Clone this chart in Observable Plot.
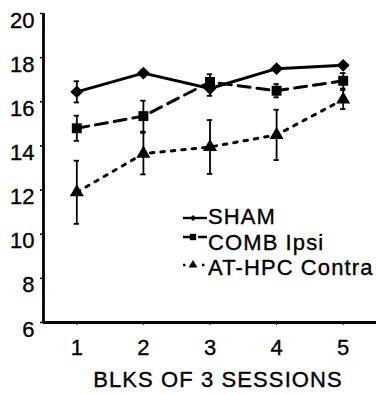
<!DOCTYPE html>
<html><head><meta charset="utf-8">
<script src="https://cdn.jsdelivr.net/npm/d3@7"></script>
<script src="https://cdn.jsdelivr.net/npm/@observablehq/plot@0.6"></script>
<style>
body{margin:0;background:#fff;font-family:"Liberation Sans",Arial,sans-serif;}
#wrap{position:relative;width:376px;height:394px;}
#wrap svg{display:block;}
#legend{position:absolute;left:0;top:0;pointer-events:none;}
#wrap text{stroke:#000;stroke-width:0.35px;}
</style></head><body><div id="wrap"></div>
<script>
const blocks = [1, 2, 3, 4, 5];
const seriesNames = ["SHAM", "COMB Ipsi", "AT-HPC Contra"];
const shamMean = [16.45, 17.3, 16.6, 17.5, 17.65];
const shamErr = [0.48, 0.12, 0.33, 0.12, 0.08];
const combMean = [14.8, 15.35, 16.9, 16.5, 16.95];
const combErr = [0.57, 0.7, 0.35, 0.3, 0.35];
const athpcMean = [11.9, 13.65, 13.95, 14.5, 16.1];
const athpcErr = [1.43, 0.94, 1.22, 1.14, 0.43];
const yTicks = [6, 8, 10, 12, 14, 16, 18, 20];
const xTitle = "BLKS OF 3 SESSIONS";

const means = [shamMean, combMean, athpcMean];
const errs = [shamErr, combErr, athpcErr];
const rows = seriesNames.flatMap((s, i) => blocks.map((b, j) => ({series: s, block: b, mean: means[i][j], err: errs[i][j]})));
const bySeries = s => rows.filter(d => d.series === s);

const symbols = {"SHAM": "diamond2", "COMB Ipsi": "square", "AT-HPC Contra": "triangle"};
const radius = {"SHAM": 5.8, "COMB Ipsi": 5.6, "AT-HPC Contra": 5.2};
const dash = {"SHAM": null, "COMB Ipsi": "12,7", "AT-HPC Contra": "3.5,7"};

const font = '"Liberation Sans", Arial, sans-serif';
const plot = Plot.plot({
  width: 376, height: 394,
  marginLeft: 43, marginRight: 0, marginTop: 13, marginBottom: 72,
  x: {domain: [0.5, 5.5]},
  y: {domain: [6, 20]},
  style: {fontFamily: font, fontSize: "22px", color: "#000", background: "#fff"},
  marks: [
    Plot.axisY({ticks: yTicks, tickSize: 3, tickFormat: () => "", label: null, strokeWidth: 1.5}),
    Plot.axisY({ticks: yTicks, tickSize: 0, tickPadding: 9, dy: 7, label: null, fontSize: 22}),
    Plot.axisX({ticks: blocks, tickSize: 3, tickPadding: 14, tickFormat: d3.format("d"), label: null, fontSize: 22}),
    Plot.ruleX([0.5], {strokeWidth: 2.8}),
    Plot.ruleY([6], {strokeWidth: 2.8}),
    ...seriesNames.map(s => Plot.line(bySeries(s), {x: "block", y: "mean", stroke: "#000", strokeWidth: 3, strokeDasharray: dash[s]})),
    Plot.ruleX(rows, {x: "block", y1: d => d.mean - d.err, y2: d => d.mean + d.err, stroke: "#000", strokeWidth: 1.8}),
    Plot.ruleY(rows, {y: d => d.mean - d.err, x1: d => d.block - 0.04, x2: d => d.block + 0.04, stroke: "#000", strokeWidth: 1.8}),
    Plot.ruleY(rows, {y: d => d.mean + d.err, x1: d => d.block - 0.04, x2: d => d.block + 0.04, stroke: "#000", strokeWidth: 1.8}),
    ...seriesNames.map(s => Plot.dot(bySeries(s), {x: "block", y: "mean", symbol: () => symbols[s], r: radius[s], fill: "#000", stroke: "none"})),
    Plot.text([xTitle], {frameAnchor: "bottom", dy: 64, dx: 8, fontSize: 22, text: d => d, fill: "#000"})
  ]
});
const wrap = document.getElementById("wrap");
wrap.appendChild(plot);
d3.select(plot).selectAll("text").filter(function() { return this.textContent === xTitle; }).attr("letter-spacing", "1.1px");

// Legend (added overlay)
const leg = d3.select(wrap).append("svg").attr("id", "legend").attr("width", 376).attr("height", 394);
const legRows = [
  {name: seriesNames[0], base: 224, iy: 218},
  {name: seriesNames[1], base: 250, iy: 237},
  {name: seriesNames[2], base: 275, iy: 265}
];
legRows.forEach(r => {
  const s = r.name;
  leg.append("line").attr("x1", 183).attr("x2", 207).attr("y1", r.iy).attr("y2", r.iy)
    .attr("stroke", "#000").attr("stroke-width", 2.4)
    .attr("stroke-dasharray", s === "SHAM" ? null : (s === "COMB Ipsi" ? "10,5" : "2.5,7"));
  const sym = d3.symbol().type(s === "SHAM" ? d3.symbolDiamond2 : s === "COMB Ipsi" ? d3.symbolSquare : d3.symbolTriangle)
    .size(s === "SHAM" ? 22 : s === "COMB Ipsi" ? 40 : 34);
  leg.append("path").attr("d", sym()).attr("transform", `translate(193,${r.iy})`).attr("fill", "#000");
  leg.append("text").attr("x", 208).attr("y", r.base).text(s)
    .attr("font-family", font).attr("font-size", 22).attr("letter-spacing", "1.1px").attr("fill", "#000");
});
</script>
</body></html>
